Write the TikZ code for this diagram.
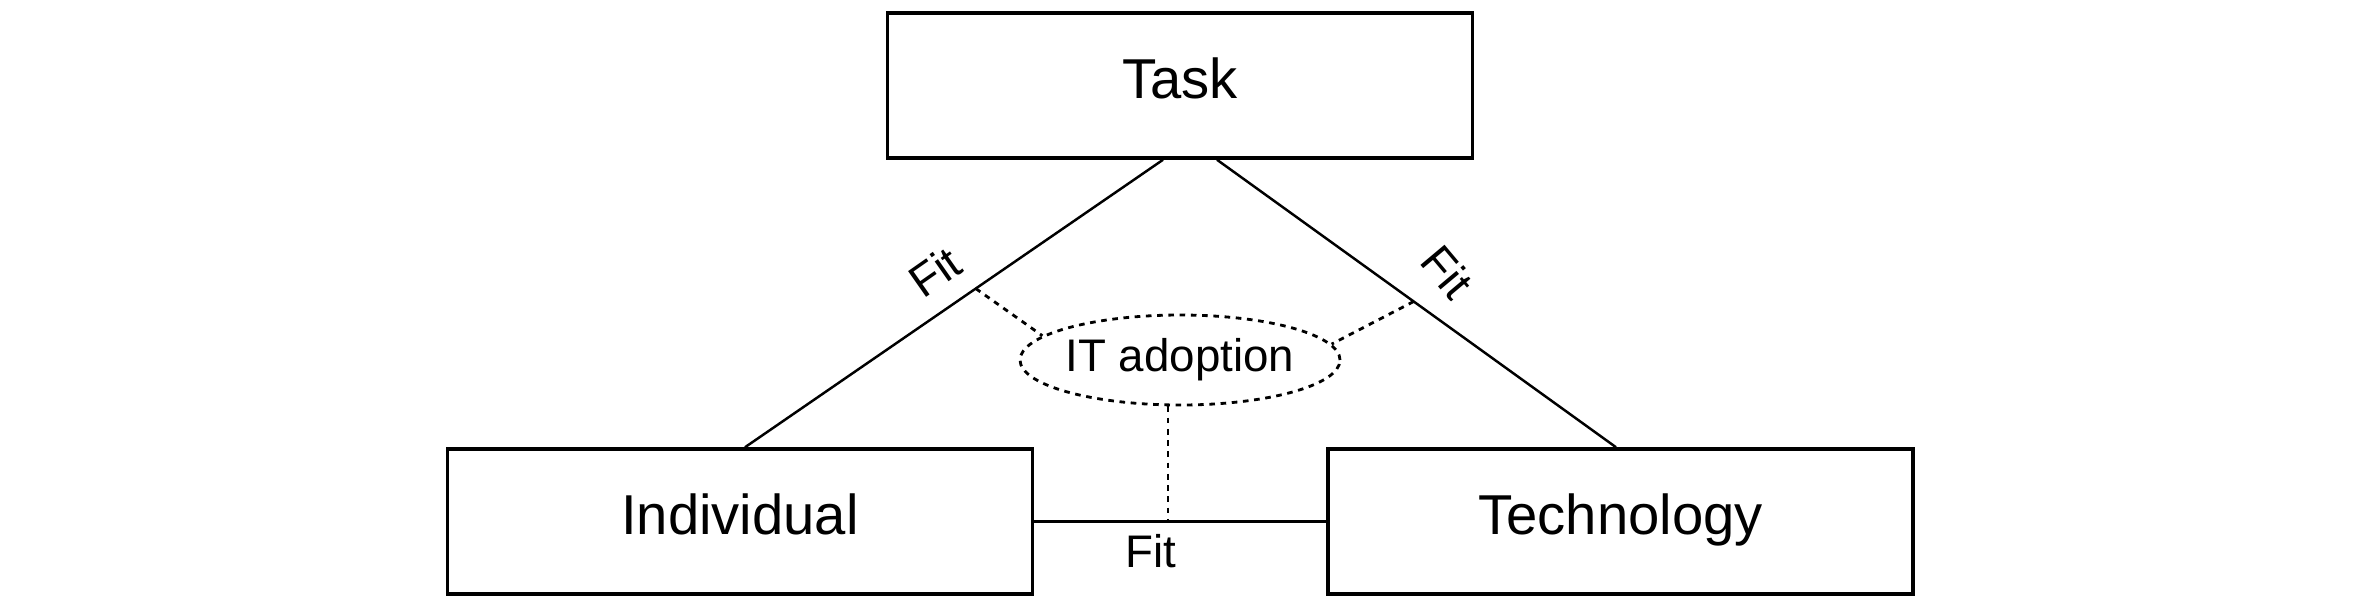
\documentclass[tikz,border=0pt]{standalone}
\usepackage{fontspec}
\setmainfont{Liberation Sans}
\usetikzlibrary{calc,shapes.geometric}

\begin{document}
\begin{tikzpicture}[
        box/.style={draw, line width=1pt, minimum width=5.85cm, minimum height=1.45cm,
            text height=0.72em, text depth=0pt, font=\fontsize{16}{19}\selectfont},
        link/.style={line width=0.7pt},
        dots/.style={draw, line width=0.8pt, dash pattern=on 1.6pt off 1.6pt},
        fitlabel/.style={font=\fontsize{13}{15}\selectfont}
    ]
    \useasboundingbox (0, 0) rectangle (23.62, 6.02);

    \node[box] (task) at (11.80, 5.165) {Task};
    \node[box] (indiv) at (7.40, 0.805) {Individual};
    \node[box] (tech) at (16.205, 0.805) {Technology};
    \node[ellipse, dots, minimum width=3.2cm, minimum height=0.9cm,
        label={[fitlabel]center:IT adoption}] (adopt) at (11.80, 2.42) {};

    % the three fits
    \draw[link] ($(task.south)+(-0.17,0)$) --
        node[pos=0.39, xshift=-0.65cm, rotate=35, fitlabel] {Fit}
        coordinate[pos=0.448] (leftfit)
        ($(indiv.north)+(0.05,0)$);
    \draw[link] ($(task.south)+(0.37,0)$) --
        node[pos=0.39, xshift=0.75cm, rotate=-50, fitlabel] {Fit}
        coordinate[pos=0.493] (rightfit)
        ($(tech.north)+(-0.045,0)$);
    \draw[link] (indiv.east) -- node[below, pos=0.4, fitlabel] {Fit} (tech.west);

    % links to adoption
    \coordinate (adoptfoot) at ($(adopt.south)+(-0.12,0)$);
    \draw[dots] (leftfit) -- (adopt.170);
    \draw[dots] (rightfit) -- (adopt.6);
    \draw[dots] (adoptfoot) -- (adoptfoot |- indiv.east);
\end{tikzpicture}
\end{document}
